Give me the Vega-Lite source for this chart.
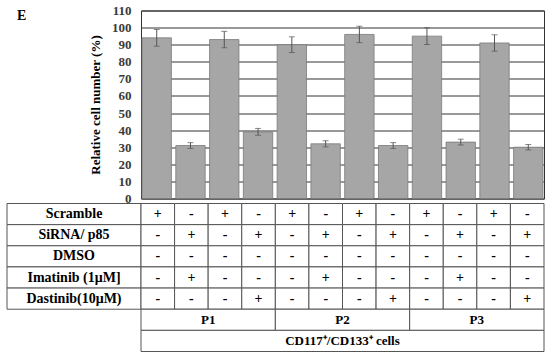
{
  "$schema": "https://vega.github.io/schema/vega-lite/v6.json",
  "padding": {"left": 6, "top": 3.5, "right": 2, "bottom": 2},
  "background": "white",
  "config": {
    "view": {"stroke": null},
    "font": "Liberation Serif",
    "text": {"font": "Liberation Serif"}
  },
  "datasets": {
    "bars": [
      {"cond": "1", "value": 94, "err": 4.9},
      {"cond": "2", "value": 31, "err": 1.7},
      {"cond": "3", "value": 93, "err": 4.8},
      {"cond": "4", "value": 39, "err": 2},
      {"cond": "5", "value": 90, "err": 4.6},
      {"cond": "6", "value": 32, "err": 1.8},
      {"cond": "7", "value": 96, "err": 4.8},
      {"cond": "8", "value": 31, "err": 1.7},
      {"cond": "9", "value": 95, "err": 4.9},
      {"cond": "10", "value": 33, "err": 1.7},
      {"cond": "11", "value": 91, "err": 4.8},
      {"cond": "12", "value": 30, "err": 1.6}
    ],
    "cells": [
      {"cond": "1", "row": "Scramble", "sign": "+"}, {"cond": "2", "row": "Scramble", "sign": "-"}, {"cond": "3", "row": "Scramble", "sign": "+"}, {"cond": "4", "row": "Scramble", "sign": "-"},
      {"cond": "5", "row": "Scramble", "sign": "+"}, {"cond": "6", "row": "Scramble", "sign": "-"}, {"cond": "7", "row": "Scramble", "sign": "+"}, {"cond": "8", "row": "Scramble", "sign": "-"},
      {"cond": "9", "row": "Scramble", "sign": "+"}, {"cond": "10", "row": "Scramble", "sign": "-"}, {"cond": "11", "row": "Scramble", "sign": "+"}, {"cond": "12", "row": "Scramble", "sign": "-"},
      {"cond": "1", "row": "SiRNA/ p85", "sign": "-"}, {"cond": "2", "row": "SiRNA/ p85", "sign": "+"}, {"cond": "3", "row": "SiRNA/ p85", "sign": "-"}, {"cond": "4", "row": "SiRNA/ p85", "sign": "+"},
      {"cond": "5", "row": "SiRNA/ p85", "sign": "-"}, {"cond": "6", "row": "SiRNA/ p85", "sign": "+"}, {"cond": "7", "row": "SiRNA/ p85", "sign": "-"}, {"cond": "8", "row": "SiRNA/ p85", "sign": "+"},
      {"cond": "9", "row": "SiRNA/ p85", "sign": "-"}, {"cond": "10", "row": "SiRNA/ p85", "sign": "+"}, {"cond": "11", "row": "SiRNA/ p85", "sign": "-"}, {"cond": "12", "row": "SiRNA/ p85", "sign": "+"},
      {"cond": "1", "row": "DMSO", "sign": "-"}, {"cond": "2", "row": "DMSO", "sign": "-"}, {"cond": "3", "row": "DMSO", "sign": "-"}, {"cond": "4", "row": "DMSO", "sign": "-"},
      {"cond": "5", "row": "DMSO", "sign": "-"}, {"cond": "6", "row": "DMSO", "sign": "-"}, {"cond": "7", "row": "DMSO", "sign": "-"}, {"cond": "8", "row": "DMSO", "sign": "-"},
      {"cond": "9", "row": "DMSO", "sign": "-"}, {"cond": "10", "row": "DMSO", "sign": "-"}, {"cond": "11", "row": "DMSO", "sign": "-"}, {"cond": "12", "row": "DMSO", "sign": "-"},
      {"cond": "1", "row": "Imatinib (1μM]", "sign": "-"}, {"cond": "2", "row": "Imatinib (1μM]", "sign": "+"}, {"cond": "3", "row": "Imatinib (1μM]", "sign": "-"}, {"cond": "4", "row": "Imatinib (1μM]", "sign": "-"},
      {"cond": "5", "row": "Imatinib (1μM]", "sign": "-"}, {"cond": "6", "row": "Imatinib (1μM]", "sign": "+"}, {"cond": "7", "row": "Imatinib (1μM]", "sign": "-"}, {"cond": "8", "row": "Imatinib (1μM]", "sign": "-"},
      {"cond": "9", "row": "Imatinib (1μM]", "sign": "-"}, {"cond": "10", "row": "Imatinib (1μM]", "sign": "+"}, {"cond": "11", "row": "Imatinib (1μM]", "sign": "-"}, {"cond": "12", "row": "Imatinib (1μM]", "sign": "-"},
      {"cond": "1", "row": "Dastinib(10μM)", "sign": "-"}, {"cond": "2", "row": "Dastinib(10μM)", "sign": "-"}, {"cond": "3", "row": "Dastinib(10μM)", "sign": "-"}, {"cond": "4", "row": "Dastinib(10μM)", "sign": "+"},
      {"cond": "5", "row": "Dastinib(10μM)", "sign": "-"}, {"cond": "6", "row": "Dastinib(10μM)", "sign": "-"}, {"cond": "7", "row": "Dastinib(10μM)", "sign": "-"}, {"cond": "8", "row": "Dastinib(10μM)", "sign": "+"},
      {"cond": "9", "row": "Dastinib(10μM)", "sign": "-"}, {"cond": "10", "row": "Dastinib(10μM)", "sign": "-"}, {"cond": "11", "row": "Dastinib(10μM)", "sign": "-"}, {"cond": "12", "row": "Dastinib(10μM)", "sign": "+"}
    ],
    "labels": [
      {"row": "Scramble"}, {"row": "SiRNA/ p85"}, {"row": "DMSO"}, {"row": "Imatinib (1μM]"}, {"row": "Dastinib(10μM)"}
    ],
    "groups": [
      {"grp": "P1", "row": "P"}, {"grp": "P2", "row": "P"}, {"grp": "P3", "row": "P"}
    ],
    "celltype": [
      {"cell": "CD117⁺/CD133⁺  cells", "row": "CD"}
    ]
  },
  "columns": 2,
  "bounds": "flush",
  "align": "each",
  "spacing": {"row": 5, "column": 0},
  "concat": [
    {
      "width": 134,
      "height": 188,
      "title": {"text": "E", "anchor": "start", "font": "Liberation Serif", "fontSize": 14, "fontWeight": "bold", "color": "#000", "dx": 10, "offset": -12},
      "data": {"values": [{}]},
      "mark": {"type": "text", "text": ""},
      "encoding": {}
    },
    {
      "width": 403,
      "height": 188,
      "data": {"name": "bars"},
      "view": {"stroke": "#333", "strokeWidth": 1},
      "encoding": {
        "x": {"field": "cond", "type": "nominal", "sort": null, "axis": null,
              "scale": {"paddingInner": 0.13, "paddingOuter": 0.03}},
        "y": {"field": "value", "type": "quantitative",
              "scale": {"domain": [0, 110], "nice": false},
              "axis": {
                "title": "Relative cell number (%)",
                "titleFont": "Liberation Serif", "titleFontSize": 13, "titleFontWeight": "bold", "titleColor": "#000", "titlePadding": 9,
                "values": [0, 10, 20, 30, 40, 50, 60, 70, 80, 90, 100, 110],
                "labelFont": "Liberation Serif", "labelFontSize": 13, "labelFontWeight": "bold", "labelColor": "#3a3a3a", "labelPadding": 10,
                "ticks": false, "domain": true, "domainColor": "#333",
                "grid": true, "gridColor": "#333", "gridWidth": 1, "gridOpacity": 1
              }}
      },
      "layer": [
        {
          "mark": {"type": "bar", "fill": "#a6a6a6", "stroke": "#7a7a7a", "strokeWidth": 0.8}
        },
        {
          "mark": {"type": "errorbar", "ticks": {"size": 6, "color": "#555", "strokeWidth": 1}, "rule": {"color": "#555", "strokeWidth": 1}},
          "encoding": {
            "yError": {"field": "err"}
          }
        }
      ]
    },
    {
      "width": 134,
      "height": 148,
      "data": {"name": "labels"},
      "encoding": {
        "y": {"field": "row", "type": "nominal", "axis": null,
              "scale": {"domain": ["Scramble", "SiRNA/ p85", "DMSO", "Imatinib (1μM]", "Dastinib(10μM)", "P", "CD"], "paddingInner": 0, "paddingOuter": 0}}
      },
      "layer": [
        {"mark": {"type": "rect", "fill": "white", "stroke": "#555", "strokeWidth": 1}},
        {"mark": {"type": "text", "font": "Liberation Serif", "fontSize": 14, "fontWeight": "bold", "fill": "#000"},
         "encoding": {"text": {"field": "row"}}}
      ]
    },
    {
      "width": 403,
      "height": 148,
      "resolve": {"scale": {"x": "independent"}},
      "layer": [
        {
          "data": {"name": "cells"},
          "encoding": {
            "x": {"field": "cond", "type": "nominal", "sort": null, "axis": null, "scale": {"paddingInner": 0, "paddingOuter": 0}},
            "y": {"field": "row", "type": "nominal", "axis": null,
                  "scale": {"domain": ["Scramble", "SiRNA/ p85", "DMSO", "Imatinib (1μM]", "Dastinib(10μM)", "P", "CD"], "paddingInner": 0, "paddingOuter": 0}}
          },
          "layer": [
            {"mark": {"type": "rect", "fill": "white", "stroke": "#555", "strokeWidth": 1}},
            {"mark": {"type": "text", "font": "Liberation Serif", "fontSize": 14, "fontWeight": "bold", "fill": "#000"},
             "encoding": {"text": {"field": "sign"}}}
          ]
        },
        {
          "data": {"name": "groups"},
          "encoding": {
            "x": {"field": "grp", "type": "nominal", "sort": null, "axis": null, "scale": {"paddingInner": 0, "paddingOuter": 0}},
            "y": {"field": "row", "type": "nominal", "axis": null}
          },
          "layer": [
            {"mark": {"type": "rect", "fill": "white", "stroke": "#555", "strokeWidth": 1}},
            {"mark": {"type": "text", "font": "Liberation Serif", "fontSize": 13, "fontWeight": "bold", "fill": "#000"},
             "encoding": {"text": {"field": "grp"}}}
          ]
        },
        {
          "data": {"name": "celltype"},
          "encoding": {
            "x": {"field": "cell", "type": "nominal", "axis": null, "scale": {"paddingInner": 0, "paddingOuter": 0}},
            "y": {"field": "row", "type": "nominal", "axis": null}
          },
          "layer": [
            {"mark": {"type": "rect", "fill": "white", "stroke": "#555", "strokeWidth": 1}},
            {"mark": {"type": "text", "font": "Liberation Serif", "fontSize": 13, "fontWeight": "bold", "fill": "#000"},
             "encoding": {"text": {"field": "cell"}}}
          ]
        }
      ]
    }
  ]
}
